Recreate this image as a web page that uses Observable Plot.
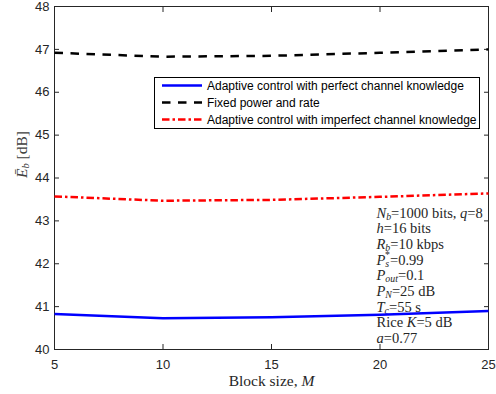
<!DOCTYPE html>
<html>
<head>
<meta charset="utf-8">
<script src="https://cdn.jsdelivr.net/npm/d3@7"></script>
<script src="https://cdn.jsdelivr.net/npm/@observablehq/plot@0.6"></script>
<style>
  html, body { margin: 0; padding: 0; background: #fff; }
  #chart svg { display: block; }
</style>
</head>
<body>
<div id="chart"></div>
<script>
// Block size M on the x axis
const M = [5, 10, 15, 20, 25];

// Average energy per bit (dB) for each scheme
const perfect = [40.83, 40.73, 40.75, 40.81, 40.90];
const fixed = [46.92, 46.83, 46.85, 46.92, 47.00];
const imperfect = [43.57, 43.47, 43.49, 43.56, 43.64];

const seriesNames = [
  "Adaptive control with perfect channel knowledge",
  "Fixed power and rate",
  "Adaptive control with imperfect channel knowledge"
];

const xTicks = [5, 10, 15, 20, 25];
const yTicks = [40, 41, 42, 43, 44, 45, 46, 47, 48];

// Simulation parameters ($...$ marks math: italics, _ subscripts, ^ superscripts)
const notes = [
  "$N_b$=1000 bits, $q$=8",
  "$h$=16 bits",
  "$R_b$=10 kbps",
  "$P_s^*$=0.99",
  "$P_{out}$=0.1",
  "$P_N$=25 dB",
  "$T_c$=55 s",
  "Rice $K$=5 dB",
  "$a$=0.77"
];

const xLabel = "Block size, $M$";
const yLabel = "$Ē_b$ [dB]";

// ---- drawing ----
const serif = "'Liberation Serif', 'Times New Roman', serif";
const ink = "#262626";

const series = [
  {name: seriesNames[0], values: perfect, stroke: "#0000ff", dash: null},
  {name: seriesNames[1], values: fixed, stroke: "#000000", dash: "8.5,7.5"},
  {name: seriesNames[2], values: imperfect, stroke: "#ff0000", dash: "7.5,3,2.5,3"}
];

const lineMarks = series.map(s =>
  Plot.line(M.map((m, i) => ({M: m, E: s.values[i]})), {
    x: "M", y: "E",
    stroke: s.stroke,
    strokeWidth: 2.5,
    strokeDasharray: s.dash,
    strokeLinecap: "butt"
  })
);

const svg = Plot.plot({
  width: 496,
  height: 394,
  marginLeft: 54,
  marginRight: 8,
  marginTop: 6,
  marginBottom: 45,
  x: {domain: [5, 25]},
  y: {domain: [40, 48]},
  style: {fontFamily: "'Liberation Sans', Arial, sans-serif", fontSize: "13px", color: ink, background: "#fff"},
  marks: [
    Plot.frame({stroke: ink, strokeWidth: 1}),
    // tick labels
    Plot.axisX(xTicks, {anchor: "bottom", tickSize: 0, tickPadding: 10, label: null, fontSize: 13}),
    Plot.axisY(yTicks, {anchor: "left", tickSize: 0, tickPadding: 5, label: null, fontSize: 13}),
    // inward ticks on all four sides
    Plot.axisX(xTicks, {anchor: "bottom", tickSize: -5, tickFormat: () => "", label: null}),
    Plot.axisX(xTicks, {anchor: "top", tickSize: -5, tickFormat: () => "", label: null}),
    Plot.axisY(yTicks, {anchor: "left", tickSize: -5, tickFormat: () => "", label: null}),
    Plot.axisY(yTicks, {anchor: "right", tickSize: -5, tickFormat: () => "", label: null}),
    // parameter box
    Plot.text([notes.join("\n")], {
      text: d => d,
      frameAnchor: "top-left", dx: 322, dy: 200,
      textAnchor: "start", lineAnchor: "top", lineHeight: 1.08,
      fontFamily: serif, fontSize: 14.5, fill: ink
    }),
    ...lineMarks,
    // axis titles
    Plot.text([xLabel], {
      text: d => d, frameAnchor: "bottom", dy: 32, lineAnchor: "middle",
      fontFamily: serif, fontSize: 15.5, fill: ink
    }),
    Plot.text([yLabel], {
      text: d => d, frameAnchor: "left", dx: -32, rotate: -90, lineAnchor: "middle",
      fontFamily: serif, fontSize: 15.5, fill: "#404040"
    })
  ]
});

// Turn "$...$" markup into italic / sub / superscript tspans
function richText(el, src) {
  const sel = d3.select(el);
  sel.text(null);
  src.split("$").forEach((part, k) => {
    if (!part) return;
    if (k % 2 === 0) { sel.append("tspan").text(part); return; }
    let i = 0, lastSubLen = 0, lastWasSub = false;
    while (i < part.length) {
      const c = part[i];
      if (c === "_" || c === "^") {
        i++;
        let body;
        if (part[i] === "{") { const j = part.indexOf("}", i); body = part.slice(i + 1, j); i = j + 1; }
        else { body = part[i]; i++; }
        const t = sel.append("tspan")
          .attr("font-size", "68%")
          .attr("baseline-shift", c === "_" ? "-0.22em" : "0.7em")
          .attr("font-style", /^\p{L}+$/u.test(body) ? "italic" : null)
          .text(body);
        if (c === "^" && lastWasSub) t.attr("dx", `${-0.42 * lastSubLen}em`);
        lastWasSub = c === "_";
        lastSubLen = body.length;
        continue;
      }
      let j = i;
      const isLetter = ch => /\p{L}/u.test(ch);
      const letter = isLetter(c);
      while (j < part.length && part[j] !== "_" && part[j] !== "^" && isLetter(part[j]) === letter) j++;
      sel.append("tspan").attr("font-style", letter ? "italic" : null).text(part.slice(i, j));
      lastWasSub = false;
      i = j;
    }
  });
}

d3.select(svg).selectAll("text").each(function() {
  const lines = this.querySelectorAll("tspan");
  if (lines.length) lines.forEach(t => { if (t.textContent.includes("$")) richText(t, t.textContent); });
  else if (this.textContent.includes("$")) richText(this, this.textContent);
});

// Legend box
const legend = d3.select(svg).append("g")
  .attr("font-family", "'Liberation Sans', Arial, sans-serif")
  .attr("font-size", 12)
  .attr("text-anchor", "start");
legend.append("rect")
  .attr("x", 154.5).attr("y", 77.5).attr("width", 325).attr("height", 51)
  .attr("fill", "#fff").attr("stroke", "#000").attr("stroke-width", 1);
series.forEach((s, i) => {
  const y = 85.5 + i * 17;
  legend.append("line")
    .attr("x1", 162).attr("x2", 202).attr("y1", y).attr("y2", y)
    .attr("stroke", s.stroke).attr("stroke-width", 2.5)
    .attr("stroke-dasharray", s.dash);
  legend.append("text")
    .attr("x", 207).attr("y", y).attr("dy", "0.35em")
    .attr("fill", "#000")
    .text(s.name);
});

document.getElementById("chart").appendChild(svg);
</script>
</body>
</html>
